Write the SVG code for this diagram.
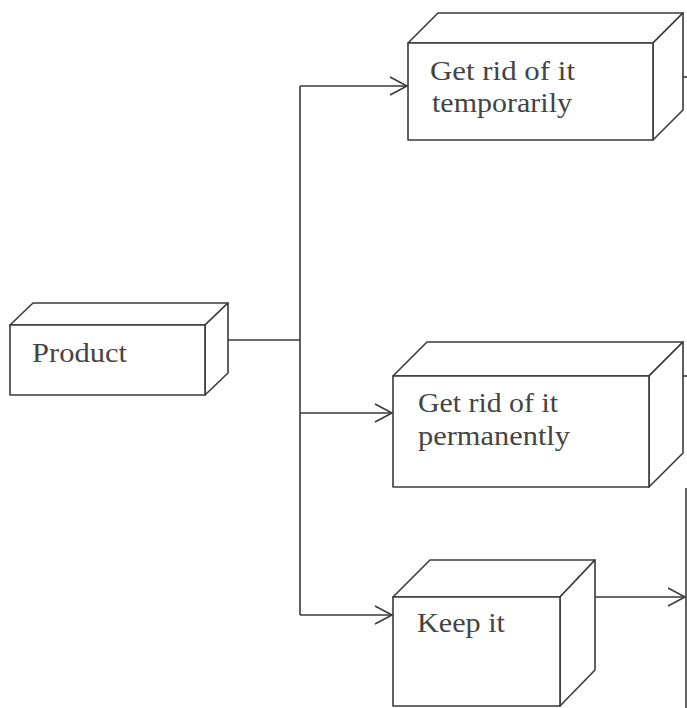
<svg xmlns="http://www.w3.org/2000/svg" width="687" height="708" viewBox="0 0 687 708">
  <style>
    .edge { fill: #ffffff; stroke: #3a3a3a; stroke-width: 1.6; stroke-linejoin: round; }
    .wire { fill: none; stroke: #3a3a3a; stroke-width: 1.6; }
    .label { font-family: "Liberation Serif", "Times New Roman", serif; font-size: 27px; fill: #444444; }
  </style>
  <defs>
    <marker id="open-arrow" viewBox="0 0 20 20" refX="18" refY="10" markerWidth="20" markerHeight="20" markerUnits="userSpaceOnUse" orient="auto">
      <path d="M1,1 L18,10 L1,19" fill="none" stroke="#3a3a3a" stroke-width="1.6"/>
    </marker>
  </defs>
  <rect width="687" height="708" fill="#ffffff"/>

  <g id="connectors">
    <!-- trunk from Product -->
    <path class="wire" d="M228,340 H300"/>
    <path class="wire" d="M300,86 V615"/>
    <path class="wire" d="M300,86 H407" marker-end="url(#open-arrow)"/>
    <path class="wire" d="M300,413 H392" marker-end="url(#open-arrow)"/>
    <path class="wire" d="M300,615 H392" marker-end="url(#open-arrow)"/>
    <!-- from Keep it to the right -->
    <path class="wire" d="M595,597 H685" marker-end="url(#open-arrow)"/>
  </g>

  <g id="product">
    <polygon class="edge" points="10,325 33,303 228,303 205,325"/>
    <polygon class="edge" points="205,325 228,303 228,373 205,395"/>
    <rect class="edge" x="10" y="325" width="195" height="70"/>
    <text class="label" x="32" y="362" textLength="95" lengthAdjust="spacingAndGlyphs">Product</text>
  </g>

  <g id="temporarily">
    <polygon class="edge" points="408,43 438,13 683,13 653,43"/>
    <polygon class="edge" points="653,43 683,13 683,110 653,140"/>
    <rect class="edge" x="408" y="43" width="245" height="97"/>
    <text class="label" x="430" y="80" textLength="145" lengthAdjust="spacingAndGlyphs">Get rid of it</text>
    <text class="label" x="432" y="112" textLength="140" lengthAdjust="spacingAndGlyphs">temporarily</text>
  </g>

  <g id="permanently">
    <polygon class="edge" points="393,376 427,342 683,342 649,376"/>
    <polygon class="edge" points="649,376 683,342 683,453 649,487"/>
    <rect class="edge" x="393" y="376" width="256" height="111"/>
    <text class="label" x="418" y="412" textLength="140" lengthAdjust="spacingAndGlyphs">Get rid of it</text>
    <text class="label" x="418" y="445" textLength="152" lengthAdjust="spacingAndGlyphs">permanently</text>
  </g>

  <g id="keep">
    <polygon class="edge" points="393,597 430,560 595,560 560,597"/>
    <polygon class="edge" points="560,597 595,560 595,670 560,706"/>
    <rect class="edge" x="393" y="597" width="167" height="109"/>
    <text class="label" x="417" y="632" textLength="88" lengthAdjust="spacingAndGlyphs">Keep it</text>
  </g>

  <!-- edges of shapes running past the right border -->
  <g id="offpage">
    <path class="wire" d="M683,77 H687"/>
    <path class="wire" d="M683,376 H687"/>
    <path class="wire" d="M686,488 V708"/>
  </g>
</svg>
